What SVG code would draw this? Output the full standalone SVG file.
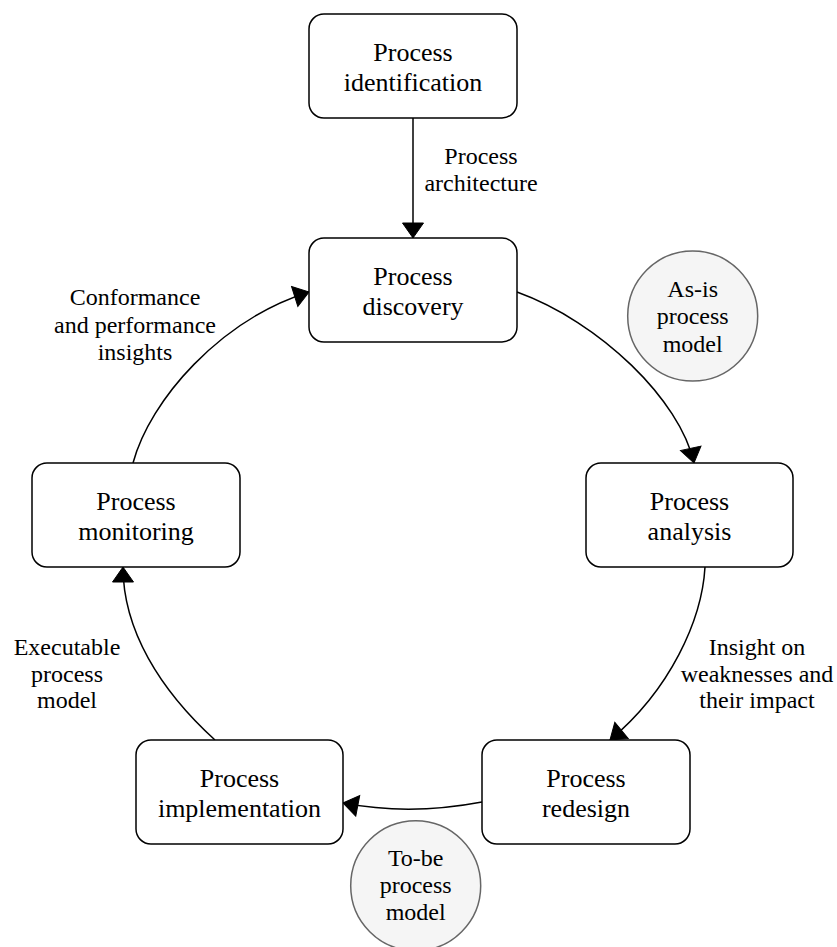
<svg xmlns="http://www.w3.org/2000/svg" width="837" height="947" viewBox="0 0 837 947">
<style>
.box{fill:#ffffff;stroke:#000000;stroke-width:1.5}
.circ{fill:#f5f5f5;stroke:#666666;stroke-width:1.5}
text{font-family:'Liberation Serif','DejaVu Serif','Times New Roman',serif;fill:#000;text-anchor:middle}
.bt{font-size:26px}
.lt{font-size:24px}
.edge{fill:none;stroke:#000;stroke-width:1.5}
</style>
<defs>
<marker id="arr" markerUnits="userSpaceOnUse" markerWidth="18" markerHeight="24" viewBox="-1 -1 18 24" refX="15" refY="10.5" orient="auto">
<path d="M0,0 L15,10.5 L0,21 Z" fill="#000" stroke="#000" stroke-width="1"/>
</marker>
</defs>
<g id="connectors">
<path class="edge" d="M413,118 L413,238" marker-end="url(#arr)"/>
<path class="edge" d="M517,292 C600,322 680,400 694,463" marker-end="url(#arr)"/>
<path class="edge" d="M705,567 C702,620 670,690 610,740" marker-end="url(#arr)"/>
<path class="edge" d="M482,802 C440,810 390,812 343,803" marker-end="url(#arr)"/>
<path class="edge" d="M215,740 C160,690 123,630 123,567" marker-end="url(#arr)"/>
<path class="edge" d="M133,463 C150,400 220,320 309,292" marker-end="url(#arr)"/>
</g>
<g id="labels" font-family="Liberation Serif, serif">
<text class="lt" x="481" y="164">Process</text>
<text class="lt" x="481" y="191">architecture</text>
<text class="lt" x="135" y="305">Conformance</text>
<text class="lt" x="135" y="333">and performance</text>
<text class="lt" x="135" y="360">insights</text>
<text class="lt" x="757" y="655">Insight on</text>
<text class="lt" x="757" y="682">weaknesses and</text>
<text class="lt" x="757" y="708">their impact</text>
<text class="lt" x="67" y="655">Executable</text>
<text class="lt" x="67" y="682">process</text>
<text class="lt" x="67" y="708">model</text>
</g>
<g id="identification">
<rect class="box" x="309" y="14" width="208" height="104" rx="15"/>
<text class="bt" x="413" y="60.5">Process</text>
<text class="bt" x="413" y="90.5">identification</text>
</g>
<g id="discovery">
<rect class="box" x="309" y="238" width="208" height="104" rx="15"/>
<text class="bt" x="413" y="284.5">Process</text>
<text class="bt" x="413" y="314.5">discovery</text>
</g>
<g id="analysis">
<rect class="box" x="586" y="463" width="207" height="104" rx="15"/>
<text class="bt" x="689.5" y="509.5">Process</text>
<text class="bt" x="689.5" y="539.5">analysis</text>
</g>
<g id="redesign">
<rect class="box" x="482" y="740" width="208" height="104" rx="15"/>
<text class="bt" x="586" y="786.5">Process</text>
<text class="bt" x="586" y="816.5">redesign</text>
</g>
<g id="implementation">
<rect class="box" x="136" y="740" width="207" height="104" rx="15"/>
<text class="bt" x="239.5" y="786.5">Process</text>
<text class="bt" x="239.5" y="816.5">implementation</text>
</g>
<g id="monitoring">
<rect class="box" x="32" y="463" width="208" height="104" rx="15"/>
<text class="bt" x="136" y="509.5">Process</text>
<text class="bt" x="136" y="539.5">monitoring</text>
</g>
<g id="asis">
<circle class="circ" cx="692.7" cy="316" r="65"/>
<text class="lt" x="692.7" y="297">As-is</text>
<text class="lt" x="692.7" y="324">process</text>
<text class="lt" x="692.7" y="352">model</text>
</g>
<g id="tobe">
<circle class="circ" cx="415.7" cy="885.7" r="65"/>
<text class="lt" x="415.7" y="866">To-be</text>
<text class="lt" x="415.7" y="893">process</text>
<text class="lt" x="415.7" y="920">model</text>
</g>
</svg>
